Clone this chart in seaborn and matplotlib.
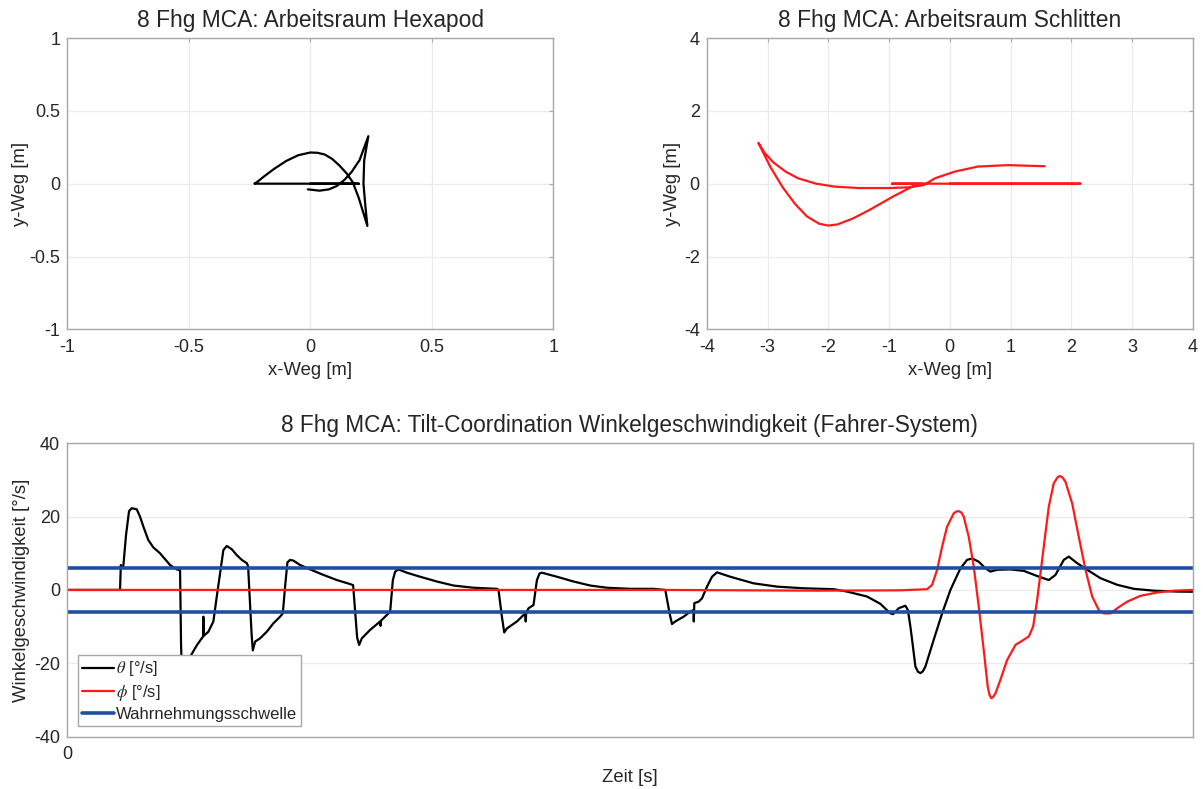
import numpy as np
import pandas as pd
import seaborn as sns
import matplotlib
matplotlib.use("Agg")
import matplotlib.pyplot as plt

# Hexapod-Arbeitsraum (x/y in m)
hex_x = [0.0, 0.2, -0.23, -0.22, -0.19, -0.15, -0.1, -0.05, 0.0, 0.03, 0.06, 0.09, 0.12,
         0.15, 0.175, 0.2, 0.235, 0.227, 0.219, 0.222, 0.239, 0.203, 0.17, 0.14, 0.109,
         0.077, 0.038, -0.01]
hex_y = [0.0, 0.0, 0.0, 0.01, 0.05, 0.1, 0.155, 0.195, 0.214, 0.212, 0.2, 0.17, 0.125,
         0.07, 0.01, -0.1, -0.29, -0.157, 0.0, 0.16, 0.326, 0.162, 0.08, 0.025, -0.016,
         -0.039, -0.048, -0.039]

# Schlitten-Arbeitsraum (x/y in m)
sch_x = [0.0, 2.15, -0.95, -0.45, -0.62, -0.94, -1.32, -1.6, -1.85, -2.0, -2.15, -2.35,
         -2.55, -2.75, -2.95, -3.15, -3.05, -2.9, -2.7, -2.5, -2.2, -1.9, -1.5, -1.0,
         -0.68, -0.43, -0.24, 0.08, 0.46, 0.96, 1.34, 1.56]
sch_y = [0.0, 0.0, 0.0, 0.0, -0.08, -0.36, -0.72, -0.96, -1.12, -1.15, -1.1, -0.9,
         -0.55, -0.1, 0.45, 1.12, 0.85, 0.58, 0.33, 0.15, 0.0, -0.08, -0.12, -0.12,
         -0.1, -0.04, 0.15, 0.33, 0.47, 0.51, 0.49, 0.48]

# Winkelgeschwindigkeit theta [deg/s] ueber Zeit [s]
theta_t = [0.0, 5.3, 5.38, 5.45, 5.63, 5.9, 6.2, 6.47, 6.97, 7.3, 7.63, 8.13, 8.63, 9.3,
           10.3, 10.97, 11.3, 11.4, 11.5, 11.6, 11.9, 12.23, 13.0, 13.6, 13.63, 13.68,
           14.13, 14.63, 14.97, 15.3, 15.63, 15.97, 16.47, 16.97, 17.47, 17.97, 18.1,
           18.45, 18.57, 18.8, 19.3, 19.97, 20.63, 21.3, 21.57, 21.8, 22.03, 22.3, 22.63,
           23.3, 24.3, 25.63, 26.97, 28.3, 28.6, 28.8, 29.0, 29.2, 29.47, 30.3, 31.3,
           31.33, 31.38, 32.13, 32.3, 32.57, 32.8, 33.13, 33.97, 35.3, 36.97, 38.63,
           40.63, 42.97, 43.13, 43.47, 43.7, 43.97, 44.97, 45.8, 45.85, 45.9, 46.13,
           46.63, 46.97, 47.23, 47.47, 48.97, 50.63, 52.3, 53.97, 56.3, 58.63, 59.8,
           60.23, 60.47, 60.8, 61.63, 62.3, 62.62, 62.65, 62.7, 63.13, 63.47, 63.97,
           64.47, 64.97, 66.3, 68.63, 70.97, 73.63, 76.63, 77.97, 79.97, 81.3, 82.3,
           82.57, 83.13, 83.8, 84.05, 84.3, 84.47, 84.8, 85.05, 85.3, 85.55, 85.8, 86.63,
           87.47, 88.3, 89.3, 89.97, 90.47, 91.13, 91.8, 92.3, 92.97, 94.3, 95.63, 96.97,
           98.13, 98.8, 99.63, 100.13, 100.97, 101.97, 103.3, 104.97, 106.63, 108.63,
           110.97, 112.5]
theta_v = [0.0, 0.0, 6.8, 6.0, 6.5, 15.0, 21.5, 22.3, 22.0, 20.0, 17.3, 13.6, 11.6, 10.0,
           6.8, 5.6, 5.4, -15.0, -24.0, -25.5, -22.0, -18.6, -15.0, -12.7, -7.3, -12.5,
           -11.4, -8.6, -1.8, 4.5, 10.9, 12.0, 11.1, 9.5, 8.2, 7.3, 6.5,
           -12.0, -16.5, -14.1, -13.2, -11.4, -9.1, -7.3, -6.4, 1.0, 7.5, 8.2, 8.0,
           6.8, 5.6, 4.1, 2.7, 1.6, 1.3, -6.0, -13.0, -15.0, -13.2, -10.9, -8.6,
           -9.8, -8.4, -6.4, -5.9, 2.7, 5.0, 5.6, 4.7, 3.6, 2.3, 1.2,
           0.6, 0.3, 0.0, -7.3, -11.6, -10.5, -8.6, -6.4, -8.6, -6.2, -5.0,
           -4.1, 2.7, 4.5, 4.7, 3.6, 2.3, 1.2, 0.6, 0.3, 0.3, 0.0,
           -6.4, -9.3, -8.6, -7.3, -5.9, -5.5, -8.6, -3.6, -3.2, -2.3, 0.9,
           3.6, 4.8, 3.6, 1.8, 0.9, 0.45, 0.2, -0.45, -1.8, -3.8, -6.4,
           -6.6, -5.0, -4.3, -5.5, -10.0, -13.6, -20.9, -22.3, -22.7, -22.2, -20.9, -13.6,
           -6.4, 0.0, 5.9, 8.2, 8.6, 7.7, 5.9, 5.0, 5.5, 5.6, 5.2, 3.8,
           2.7, 4.1, 8.2, 9.1, 7.3, 5.5, 3.2, 1.4, 0.3, -0.2,
           -0.45, -0.5]

# Winkelgeschwindigkeit phi [deg/s]
phi_t = [0.0, 60.0, 75.0, 83.3, 85.97, 86.47, 86.97, 87.47, 87.97, 88.63, 88.9, 89.13,
         89.4, 89.63, 90.13, 90.63, 91.13, 91.63, 92.03, 92.2, 92.37, 92.55, 92.8, 93.3,
         93.97, 94.8, 95.63, 96.13, 96.57, 96.97, 97.3, 97.63, 98.13, 98.63, 99.0, 99.23,
         99.5, 99.8, 100.47, 101.13, 101.8, 102.47, 103.13, 103.63, 104.3, 104.97,
         105.97, 107.3, 108.97, 110.63, 112.5]
phi_v = [0.0, 0.0, -0.2, -0.1, 0.2, 1.4, 5.5, 11.8, 17.3, 20.9, 21.4, 21.5,
         21.1, 20.0, 14.5, 6.4, -4.5, -16.4, -26.4, -28.6, -29.5, -29.3, -28.2, -24.5,
         -19.1, -15.0, -13.6, -12.7, -10.0, -2.7, 4.5, 11.8, 22.7, 29.1, 30.7, 31.1,
         30.7, 29.5, 23.6, 14.5, 5.5, -1.8, -5.5, -6.4, -6.4, -5.0,
         -3.2, -1.6, -0.7, -0.2, 0.0]

schwelle = 6.0  # Wahrnehmungsschwelle [deg/s]

sns.set_theme(style="whitegrid")
plt.rcParams["font.family"] = ["Liberation Sans", "DejaVu Sans"]
plt.rcParams["mathtext.fontset"] = "stix"
plt.rcParams["axes.unicode_minus"] = False

spine_col = "#a8a8a8"
grid_col = "#ebebeb"
text_col = "#262626"


def style_axes(ax):
    for s in ax.spines.values():
        s.set_visible(True)
        s.set_color(spine_col)
        s.set_linewidth(1.0)
    ax.grid(True, color=grid_col, linewidth=0.9)
    ax.tick_params(direction="in", length=3, width=0.8, color=spine_col,
                   top=True, right=True, labelsize=13, labelcolor=text_col)
    ax.tick_params(axis="x", pad=7)
    ax.tick_params(axis="y", pad=5)


fig = plt.figure(figsize=(12.03, 7.89), dpi=100)
ax1 = fig.add_axes([0.0559, 0.5826, 0.4040, 0.3692])
ax2 = fig.add_axes([0.5875, 0.5826, 0.4040, 0.3692])
ax3 = fig.add_axes([0.0557, 0.0665, 0.9356, 0.3716])

# Hexapod
sns.lineplot(x=hex_x, y=hex_y, sort=False, estimator=None, color="black",
             linewidth=1.6, ax=ax1)
ax1.set_xlim(-1, 1)
ax1.set_ylim(-1, 1)
ax1.set_xticks([-1, -0.5, 0, 0.5, 1])
ax1.set_yticks([-1, -0.5, 0, 0.5, 1])
ax1.set_xticklabels(["-1", "-0.5", "0", "0.5", "1"])
ax1.set_yticklabels(["-1", "-0.5", "0", "0.5", "1"])
ax1.set_title("8 Fhg MCA: Arbeitsraum Hexapod", fontsize=16.4, color=text_col, pad=8)
ax1.set_xlabel("x-Weg [m]", fontsize=13.3, color=text_col, labelpad=4)
ax1.set_ylabel("y-Weg [m]", fontsize=13.3, color=text_col)
ax1.yaxis.set_label_coords(-0.079, 0.5)
style_axes(ax1)

# Schlitten
sns.lineplot(x=sch_x, y=sch_y, sort=False, estimator=None, color="#ff1a1a",
             linewidth=1.6, ax=ax2)
ax2.set_xlim(-4, 4)
ax2.set_ylim(-4, 4)
ax2.set_xticks(range(-4, 5))
ax2.set_yticks([-4, -2, 0, 2, 4])
ax2.set_title("8 Fhg MCA: Arbeitsraum Schlitten", fontsize=16.4, color=text_col, pad=8)
ax2.set_xlabel("x-Weg [m]", fontsize=13.3, color=text_col, labelpad=4)
ax2.set_ylabel("y-Weg [m]", fontsize=13.3, color=text_col)
ax2.yaxis.set_label_coords(-0.053, 0.5)
style_axes(ax2)

# Tilt-Coordination
sns.lineplot(x=theta_t, y=theta_v, sort=False, estimator=None, color="black",
             linewidth=1.6, ax=ax3, label=r"$\theta$ [°/s]")
sns.lineplot(x=phi_t, y=phi_v, sort=False, estimator=None, color="#ff1a1a",
             linewidth=1.6, ax=ax3, label=r"$\phi$ [°/s]")
ax3.axhline(schwelle, color="#1f4fa3", linewidth=2.6, label="Wahrnehmungsschwelle")
ax3.axhline(-schwelle, color="#1f4fa3", linewidth=2.6)
ax3.set_xlim(0, theta_t[-1])
ax3.set_ylim(-40, 40)
ax3.set_xticks([0])
ax3.set_yticks([-40, -20, 0, 20, 40])
ax3.set_title("8 Fhg MCA: Tilt-Coordination Winkelgeschwindigkeit (Fahrer-System)",
              fontsize=16.3, color=text_col, pad=8)
ax3.set_xlabel("Zeit [s]", fontsize=13.3, color=text_col, labelpad=4)
ax3.set_ylabel("Winkelgeschwindigkeit [°/s]", fontsize=13.3, color=text_col)
ax3.yaxis.set_label_coords(-0.033, 0.5)
style_axes(ax3)
leg = ax3.legend(loc="lower left", bbox_to_anchor=(0.0095, 0.036), borderaxespad=0,
                 fontsize=12, handlelength=1.9, handletextpad=0.12, borderpad=0.25,
                 labelspacing=0.25, fancybox=False, framealpha=1, edgecolor=spine_col)
for t in leg.get_texts():
    t.set_color(text_col)

fig.savefig("out.png", dpi=100)
